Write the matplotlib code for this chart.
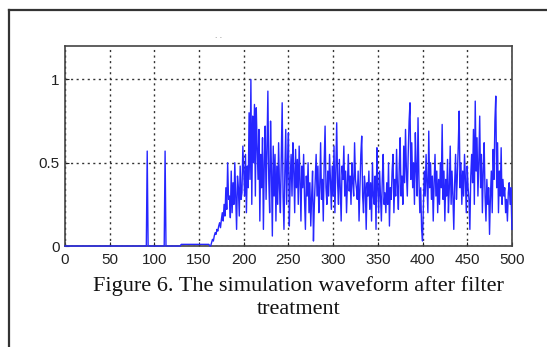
import numpy as np
import matplotlib
matplotlib.use("Agg")
import matplotlib.pyplot as plt
from matplotlib.lines import Line2D

# ---------------- DATA ----------------
# quiet start: zero with two isolated spikes, then a low plateau before the ramp
spike_x = [92, 112]
spike_y = [0.57, 0.57]
plateau_start, plateau_level = 130, 0.01

# samples from x=160 to x=500 (step 1)
tail_start = 160
tail = [
    0.01, 0.01, 0.00, 0.00, 0.02, 0.04, 0.03, 0.06, 0.08, 0.07, 0.10, 0.09, 0.12, 0.14, 0.11, 0.16, 0.20, 0.15, 0.25, 0.18,
    0.35, 0.22, 0.50, 0.28, 0.30, 0.17, 0.45, 0.20, 0.38, 0.25, 0.50, 0.30, 0.10, 0.42, 0.35, 0.18, 0.48, 0.28, 0.32, 0.60,
    0.45, 0.30, 0.55, 0.20, 0.48, 0.35, 0.80, 0.40, 1.00, 0.25, 0.78, 0.50, 0.85, 0.30, 0.83, 0.60, 0.40, 0.70, 0.15, 0.55,
    0.35, 0.65, 0.10, 0.50, 0.72, 0.28, 0.58, 0.93, 0.40, 0.20, 0.75, 0.45, 0.06, 0.60, 0.30, 0.55, 0.15, 0.48, 0.25, 0.62,
    0.35, 0.20, 0.55, 0.86, 0.30, 0.10, 0.45, 0.70, 0.25, 0.50, 0.68, 0.12, 0.40, 0.55, 0.30, 0.62, 0.45, 0.20, 0.58, 0.35,
    0.52, 0.25, 0.60, 0.40, 0.15, 0.48, 0.35, 0.55, 0.28, 0.10, 0.42, 0.30, 0.50, 0.20, 0.38, 0.12, 0.30, 0.45, 0.03, 0.25,
    0.40, 0.55, 0.30, 0.48, 0.20, 0.35, 0.62, 0.28, 0.40, 0.15, 0.50, 0.72, 0.35, 0.25, 0.45, 0.30, 0.55, 0.40, 0.22, 0.48,
    0.30, 0.60, 0.20, 0.45, 0.74, 0.38, 0.25, 0.52, 0.35, 0.15, 0.48, 0.40, 0.60, 0.30, 0.45, 0.20, 0.38, 0.55, 0.33, 0.42,
    0.25, 0.50, 0.38, 0.30, 0.62, 0.40, 0.35, 0.28, 0.45, 0.15, 0.36, 0.55, 0.66, 0.30, 0.20, 0.42, 0.35, 0.10, 0.38, 0.30,
    0.45, 0.22, 0.38, 0.15, 0.50, 0.30, 0.25, 0.42, 0.10, 0.59, 0.35, 0.20, 0.45, 0.30, 0.15, 0.40, 0.55, 0.25, 0.32, 0.20,
    0.38, 0.25, 0.50, 0.12, 0.35, 0.28, 0.45, 0.55, 0.20, 0.40, 0.30, 0.58, 0.35, 0.22, 0.48, 0.65, 0.30, 0.42, 0.25, 0.60,
    0.38, 0.70, 0.45, 0.30, 0.55, 0.75, 0.86, 0.40, 0.62, 0.35, 0.50, 0.25, 0.68, 0.45, 0.30, 0.77, 0.40, 0.20, 0.35, 0.10,
    0.03, 0.25, 0.45, 0.30, 0.55, 0.38, 0.20, 0.69, 0.35, 0.50, 0.28, 0.42, 0.15, 0.38, 0.55, 0.30, 0.45, 0.20, 0.40, 0.25,
    0.50, 0.35, 0.73, 0.28, 0.45, 0.15, 0.40, 0.30, 0.52, 0.20, 0.35, 0.60, 0.25, 0.45, 0.30, 0.10, 0.38, 0.55, 0.28, 0.42,
    0.60, 0.81, 0.35, 0.50, 0.25, 0.45, 0.30, 0.55, 0.40, 0.20, 0.48, 0.35, 0.28, 0.10, 0.42, 0.55, 0.38, 0.70, 0.25, 0.87,
    0.45, 0.65, 0.30, 0.50, 0.78, 0.35, 0.55, 0.20, 0.45, 0.62, 0.30, 0.15, 0.40, 0.25, 0.35, 0.07, 0.30, 0.45, 0.20, 0.58,
    0.40, 0.75, 0.90, 0.35, 0.62, 0.20, 0.45, 0.30, 0.59, 0.25, 0.40, 0.30, 0.35, 0.20, 0.28, 0.15, 0.32, 0.38, 0.25, 0.35, 0.10,
]

x_ticks = [0, 50, 100, 150, 200, 250, 300, 350, 400, 450, 500]
y_ticks = [0, 0.5, 1]
y_tick_labels = ["0", "0.5", "1"]
caption = "Figure 6. The simulation waveform after filter\ntreatment"

# ---------------- BUILD SERIES ----------------
x = np.arange(0, 501)
y = np.zeros(len(x))
y[plateau_start:tail_start] = plateau_level
for sx, sy in zip(spike_x, spike_y):
    y[sx] = sy
y[tail_start:] = tail

# ---------------- PLOT ----------------
plt.rcParams["font.family"] = ["Liberation Sans Narrow", "Liberation Sans", "DejaVu Sans"]

fig = plt.figure(figsize=(5.47, 3.47), dpi=100)
ax = fig.add_axes([0.1188, 0.291, 0.817, 0.576])

ax.plot(x, y, color="#2626ff", linewidth=1.0, clip_on=False, zorder=3)

ax.set_xlim(0, 500)
ax.set_ylim(0, 1.2)
ax.set_xticks(x_ticks)
ax.set_yticks(y_ticks)
ax.set_yticklabels(y_tick_labels)
ax.tick_params(direction="in", length=3, labelsize=11, colors="#222222")
ax.tick_params(axis="x", pad=5)
ax.tick_params(axis="y", pad=4)
ax.grid(True, color="#333333", linestyle=(0, (1.5, 2.5)), linewidth=1.0)
for s in ax.spines.values():
    s.set_color("#444444")
    s.set_linewidth(1.2)
    s.set_zorder(2)

# caption below the axes
fig.text(0.546, 0.143, caption, ha="center", va="center",
         family="Liberation Serif", fontsize=16, color="#111111", linespacing=1.25)

# small marks above the plot
fig.text(0.400, 0.895, ". .", ha="center", va="center", fontsize=6, color="#777777")

# outer frame of the screenshot
fig.add_artist(Line2D([9 / 547, 1.0], [1 - 9.5 / 347, 1 - 9.5 / 347],
                      transform=fig.transFigure, color="#333333", linewidth=1.6))
fig.add_artist(Line2D([9 / 547, 9 / 547], [0.0, 1 - 9.5 / 347],
                      transform=fig.transFigure, color="#333333", linewidth=1.6))

fig.savefig("out.png", dpi=100)
